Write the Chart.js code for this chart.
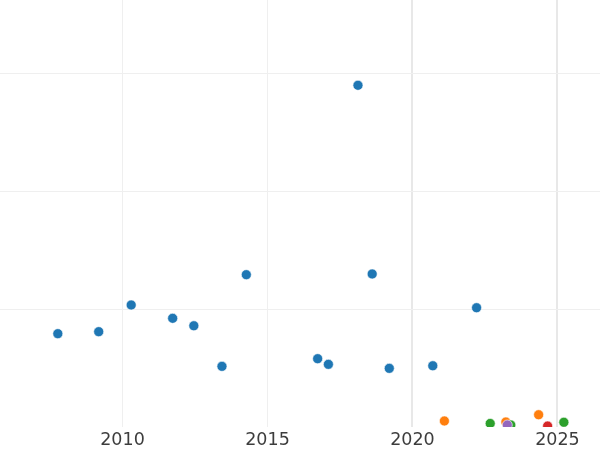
<!DOCTYPE html>
<html>
<head>
<meta charset="utf-8">
<script src="https://cdn.jsdelivr.net/npm/chart.js@4"></script>
<style>
html,body{margin:0;padding:0;background:#fff;}
#wrap{width:600px;height:450px;}
</style>
</head>
<body>
<div id="wrap"><canvas id="c" width="600" height="450"></canvas></div>
<script>
const blueX = [2007.77, 2009.18, 2010.30, 2011.73, 2012.46, 2013.43, 2014.27, 2016.73, 2017.10, 2018.12, 2018.61, 2019.20, 2020.70, 2022.21];
const blueY = [0.791, 0.808, 1.034, 0.921, 0.858, 0.514, 1.291, 0.579, 0.531, 2.896, 1.297, 0.497, 0.519, 1.011];
const orangeX = [2021.10, 2023.22, 2024.35];
const orangeY = [0.051, 0.042, 0.104];
const greenX = [2022.68, 2023.39, 2025.22];
const greenY = [0.030, 0.017, 0.040];
const purpleX = [2023.27];
const purpleY = [0.017];
const redX = [2024.66];
const redY = [0.008];
const xTicks = [2010, 2015, 2020, 2025];
const yTicks = [1, 2, 3];

function pts(xs, ys){ return xs.map((x,i)=>({x:x, y:ys[i]})); }
function ds(xs, ys, color, order){
  return {data: pts(xs, ys), backgroundColor: color, borderColor: '#ffffff', borderWidth: 0.6, pointRadius: 5, pointHoverRadius: 5, clip: 0, order: order};
}

new Chart(document.getElementById('c'), {
  type: 'scatter',
  data: {
    datasets: [
      ds(blueX, blueY, '#1f77b4', 4),
      ds(orangeX, orangeY, '#ff7f0e', 3),
      ds(greenX, greenY, '#2ca02c', 2),
      ds(redX, redY, '#d62728', 1),
      ds(purpleX, purpleY, '#9467bd', 0)
    ]
  },
  options: {
    responsive: false,
    animation: false,
    layout: {padding: 0, autoPadding: false},
    plugins: {legend: {display: false}, tooltip: {enabled: false}},
    scales: {
      x: {
        type: 'linear',
        min: 2005.776,
        max: 2026.466,
        afterBuildTicks: (axis) => { axis.ticks = xTicks.map(v => ({value: v})); },
        afterFit: (axis) => { axis.height = 23; },
        border: {display: false},
        grid: {
          drawTicks: false,
          color: (ctx) => (ctx.tick && ctx.tick.value >= 2020) ? '#e8e8e8' : '#efefef',
          lineWidth: (ctx) => (ctx.tick && ctx.tick.value >= 2020) ? 2 : 1
        },
        ticks: {
          padding: 3,
          color: '#3d3d3d',
          font: {family: 'DejaVu Sans', size: 17.5},
          callback: (v) => String(v),
          maxRotation: 0
        }
      },
      y: {
        type: 'linear',
        min: 0,
        max: 3.619,
        afterBuildTicks: (axis) => { axis.ticks = yTicks.map(v => ({value: v})); },
        border: {display: false},
        grid: {drawTicks: false, color: '#efefef', lineWidth: 1},
        ticks: {display: false}
      }
    }
  }
});
</script>
</body>
</html>
